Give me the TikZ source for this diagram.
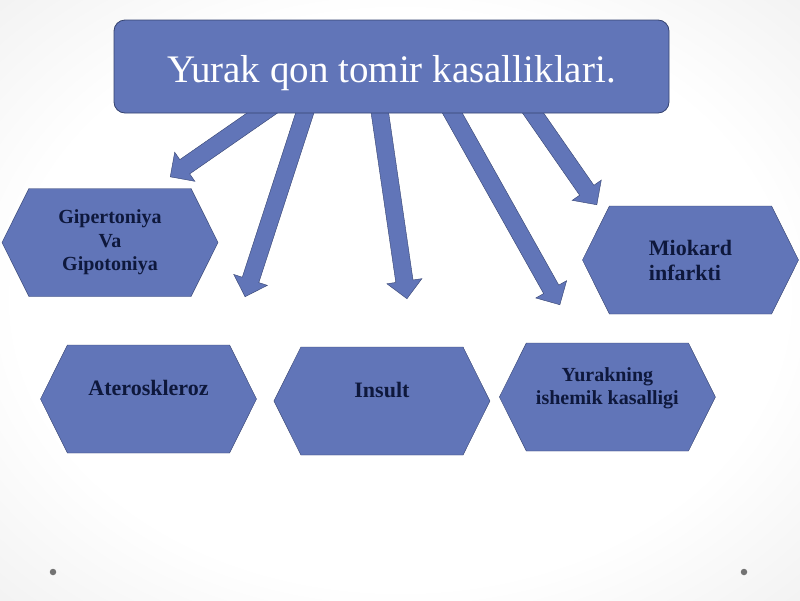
\documentclass[tikz,border=0pt]{standalone}
\usepackage{fontspec}
\setmainfont{Liberation Serif}
\usetikzlibrary{positioning}
\usetikzlibrary{calc}
\usetikzlibrary{shapes.symbols}
\usetikzlibrary{shapes.arrows}
\definecolor{slateblue}{RGB}{97,117,184}
\definecolor{slateline}{RGB}{52,66,112}
\definecolor{textnavy}{RGB}{14,24,60}
\pgfdeclareradialshading{slidebg}{\pgfpoint{0bp}{0bp}}{%
  color(0bp)=(white); color(24bp)=(white); color(62bp)=(black!16)}
\tikzset{
  heading/.style={rectangle,rounded corners=11pt,draw=slateline,thick,
    fill=slateblue,text=white,minimum width=555pt,minimum height=93pt,
    text height=31pt,text depth=0pt,font=\fontsize{39}{44}\selectfont},
  hexbox/.style={signal,signal to=west and east,signal pointer angle=127,
    draw=slateline,fill=slateblue,text=textnavy,inner sep=0pt,
    minimum width=216pt,minimum height=108pt,align=center,
    font=\bfseries\fontsize{22}{25}\selectfont},
  small/.style={font=\bfseries\fontsize{20}{23.5}\selectfont},
  fatarrow/.style={single arrow,draw=slateline,fill=slateblue,inner xsep=0pt,
    inner ysep=8.5pt,minimum width=35pt,single arrow head extend=9pt,
    anchor=tip},
  dot/.style={circle,fill=black!55,inner sep=0pt,minimum size=6.5pt}
}

\begin{document}
\begin{tikzpicture}[x=1pt,y=-1pt]
  \useasboundingbox (0,0) rectangle (800,600);
  \shade[shading=slidebg] (0,0) rectangle (800,600);
  % tails under the heading, tips in front of the boxes
  \foreach \k/\sx/\tx/\ty in {1/281/170/177, 2/309/245/297, 3/378/407/299,
      4/445/560/305, 5/524/597/205} {
    \coordinate (s\k) at (\sx,100);
    \coordinate (t\k) at (\tx,\ty);
  }
  \foreach \k in {1,...,5}
    \path let \p1=($(t\k)-(s\k)$), \n1={veclen(\x1,\y1)},
      \n2={atan2(\y1,\x1)} in
      node (arrow\k) [fatarrow,minimum height=\n1,rotate=\n2] at (t\k) {};
  \node (title) [heading] at (391.5,66.5) {Yurak qon tomir kasalliklari.};
  \node (gip) [hexbox,small] at (110,242.5) {Gipertoniya\\Va\\Gipotoniya};
  \node (miok) [hexbox,align=left] at (690.5,260) {Miokard\\infarkti};
  \node (ater) [hexbox,text height=16pt,text depth=24pt] at (148.5,399)
    {Ateroskleroz};
  \node (insult) [hexbox,right=17pt of ater,yshift=-2pt,
    text height=16pt,text depth=24pt] {Insult};
  \node (yur) [hexbox,small,right=9pt of insult,yshift=4pt,text depth=22pt]
    {Yurakning\\ishemik kasalligi};
  \node (dotl) [dot] at (53,572) {};
  \node (dotr) [dot] at (744,572) {};
\end{tikzpicture}
\end{document}
